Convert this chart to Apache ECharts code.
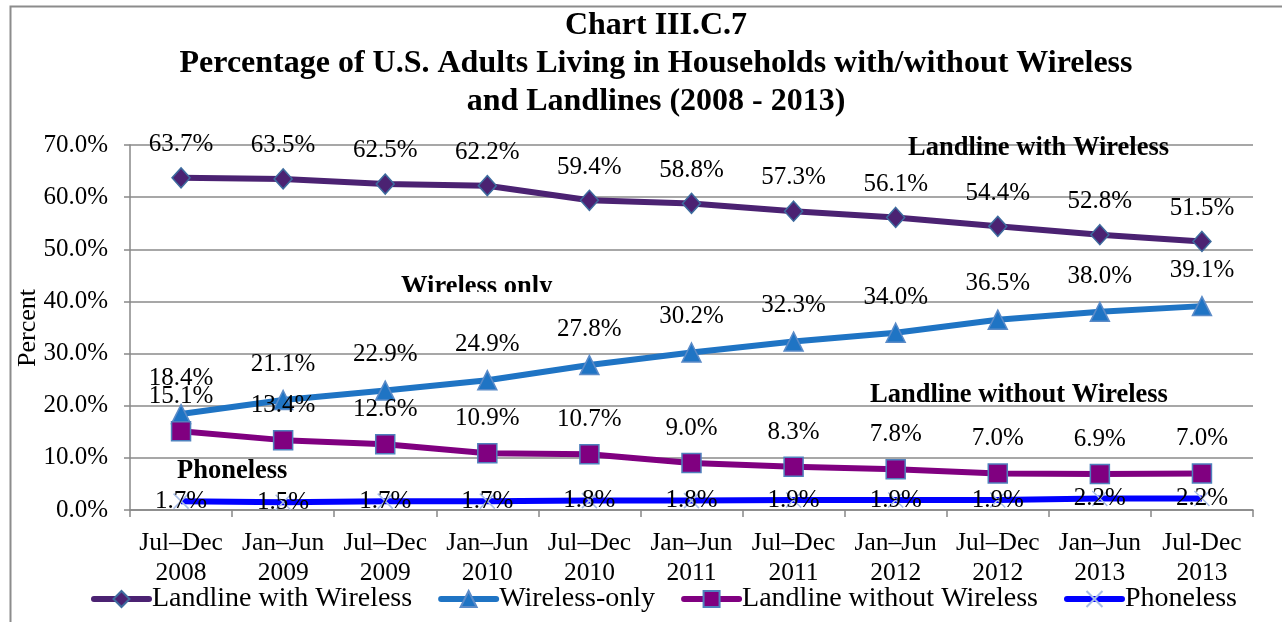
<!DOCTYPE html>
<html>
<head>
<meta charset="utf-8">
<script src="https://cdn.jsdelivr.net/npm/echarts@6/dist/echarts.min.js"></script>
<style>
  html, body { margin: 0; padding: 0; background: #fff; }
  #chart { width: 1282px; height: 622px; }
</style>
</head>
<body>
<div id="chart"></div>
<script>
// Survey periods
const periods = [
  'Jul–Dec\n2008', 'Jan–Jun\n2009', 'Jul–Dec\n2009', 'Jan–Jun\n2010', 'Jul–Dec\n2010',
  'Jan–Jun\n2011', 'Jul–Dec\n2011', 'Jan–Jun\n2012', 'Jul–Dec\n2012', 'Jan–Jun\n2013', 'Jul-Dec\n2013'
];

// Percent of adults by household telephone status
const landlineWithWireless = [63.7, 63.5, 62.5, 62.2, 59.4, 58.8, 57.3, 56.1, 54.4, 52.8, 51.5];
const wirelessOnly = [18.4, 21.1, 22.9, 24.9, 27.8, 30.2, 32.3, 34.0, 36.5, 38.0, 39.1];
const landlineWithoutWireless = [15.1, 13.4, 12.6, 10.9, 10.7, 9.0, 8.3, 7.8, 7.0, 6.9, 7.0];
const phoneless = [1.7, 1.5, 1.7, 1.7, 1.8, 1.8, 1.9, 1.9, 1.9, 2.2, 2.2];

const yTicks = [0, 10, 20, 30, 40, 50, 60, 70];

const SERIF = '"Liberation Serif", "Times New Roman", serif';
const pct = v => v.toFixed(1) + '%';

const chart = echarts.init(document.getElementById('chart'));

function lineSeries(name, data, color, symbol, symbolSize, borderColor, label) {
  return {
    name: name,
    type: 'line',
    data: data,
    symbol: symbol,
    symbolSize: symbolSize,
    showAllSymbol: true,
    lineStyle: { color: color, width: 6 },
    itemStyle: { color: color, borderColor: borderColor, borderWidth: 1.5 },
    emphasis: { disabled: true },
    label: Object.assign({
      show: true,
      fontFamily: SERIF,
      fontSize: 25,
      color: '#000',
      formatter: p => pct(p.value)
    }, label),
    z: 3
  };
}

const captionFont = 'bold 26.5px ' + SERIF;

chart.setOption({
  animation: false,
  backgroundColor: '#fff',
  title: {
    text: 'Chart III.C.7\nPercentage of U.S. Adults Living in Households with/without Wireless\nand Landlines (2008 - 2013)',
    left: 651,
    textAlign: 'center',
    top: 2,
    textStyle: { fontFamily: SERIF, fontSize: 32, fontWeight: 'bold', color: '#000', lineHeight: 38 }
  },
  legend: {
    left: 91,
    top: 585,
    padding: 0,
    itemWidth: 55,
    itemHeight: 20,
    itemGap: 26,
    lineStyle: { width: 6, cap: 'round' },
    textStyle: { fontFamily: SERIF, fontSize: 28, color: '#000', padding: [0, 0, 0, -2] },
    data: ['Landline with Wireless', 'Wireless-only', 'Landline without Wireless', 'Phoneless']
  },
  grid: { left: 130, right: 29, top: 145, bottom: 112, containLabel: false },
  xAxis: {
    type: 'category',
    data: periods,
    boundaryGap: true,
    axisLine: { lineStyle: { color: '#888', width: 1.5 } },
    axisTick: { show: true, alignWithLabel: false, length: 7, lineStyle: { color: '#888', width: 1.5 } },
    axisLabel: {
      fontFamily: SERIF, fontSize: 25.5, color: '#000', lineHeight: 30, margin: 18, interval: 0
    }
  },
  yAxis: {
    type: 'value',
    min: yTicks[0],
    max: yTicks[yTicks.length - 1],
    interval: 10,
    axisLine: { show: true, lineStyle: { color: '#888', width: 1.5 } },
    axisTick: { show: true, length: 6, lineStyle: { color: '#888', width: 1.5 } },
    splitLine: { lineStyle: { color: '#8a8a8a', width: 1.5 } },
    axisLabel: {
      fontFamily: SERIF, fontSize: 25, color: '#000', margin: 22,
      formatter: v => v.toFixed(1) + '%'
    }
  },
  graphic: [
    // outer frame
    { type: 'rect', left: 8, top: 4, shape: { width: 1300, height: 700 },
      style: { fill: 'none', stroke: '#8c8c8c', lineWidth: 2 }, silent: true, z: -1 },
    // y-axis title
    { type: 'text', x: 28, y: 328, rotation: Math.PI / 2,
      style: { text: 'Percent', font: '26px ' + SERIF, fill: '#000', align: 'center', verticalAlign: 'middle' }, z: 10 },
    // series captions
    { type: 'text', x: 908, y: 148,
      style: { text: 'Landline with Wireless', font: captionFont, fill: '#000', verticalAlign: 'middle' }, z: 10 },
    { type: 'text', x: 401, y: 287,
      style: { text: 'Wireless only', font: captionFont, fill: '#000', verticalAlign: 'middle' }, z: 10 },
    // the caption's lower edge is cut off
    { type: 'rect', x: 395, y: 292, shape: { width: 170, height: 8 },
      style: { fill: '#fff' }, z: 11 },
    { type: 'text', x: 870, y: 395,
      style: { text: 'Landline without Wireless', font: captionFont, fill: '#000', verticalAlign: 'middle' }, z: 10 },
    { type: 'text', x: 177, y: 471,
      style: { text: 'Phoneless', font: captionFont, fill: '#000', verticalAlign: 'middle' }, z: 10 }
  ],
  series: [
    lineSeries('Landline with Wireless', landlineWithWireless, '#4B2272', 'diamond', [18, 20], '#3D6B9E',
      { position: 'top', distance: 10 }),
    lineSeries('Wireless-only', wirelessOnly, '#1F74C4', 'triangle', 19, '#5B8BC8',
      { position: 'top', distance: 13 }),
    lineSeries('Landline without Wireless', landlineWithoutWireless, '#800080', 'rect', 19, '#4F81BD',
      { position: 'top', distance: 12 }),
    Object.assign(
      lineSeries('Phoneless', phoneless, '#0000FF', 'path://M0,0L10,10M10,0L0,10', 15, '#A9BDE6',
        { position: 'inside' }),
      { z: 2 }
    )
  ]
});
</script>
</body>
</html>
